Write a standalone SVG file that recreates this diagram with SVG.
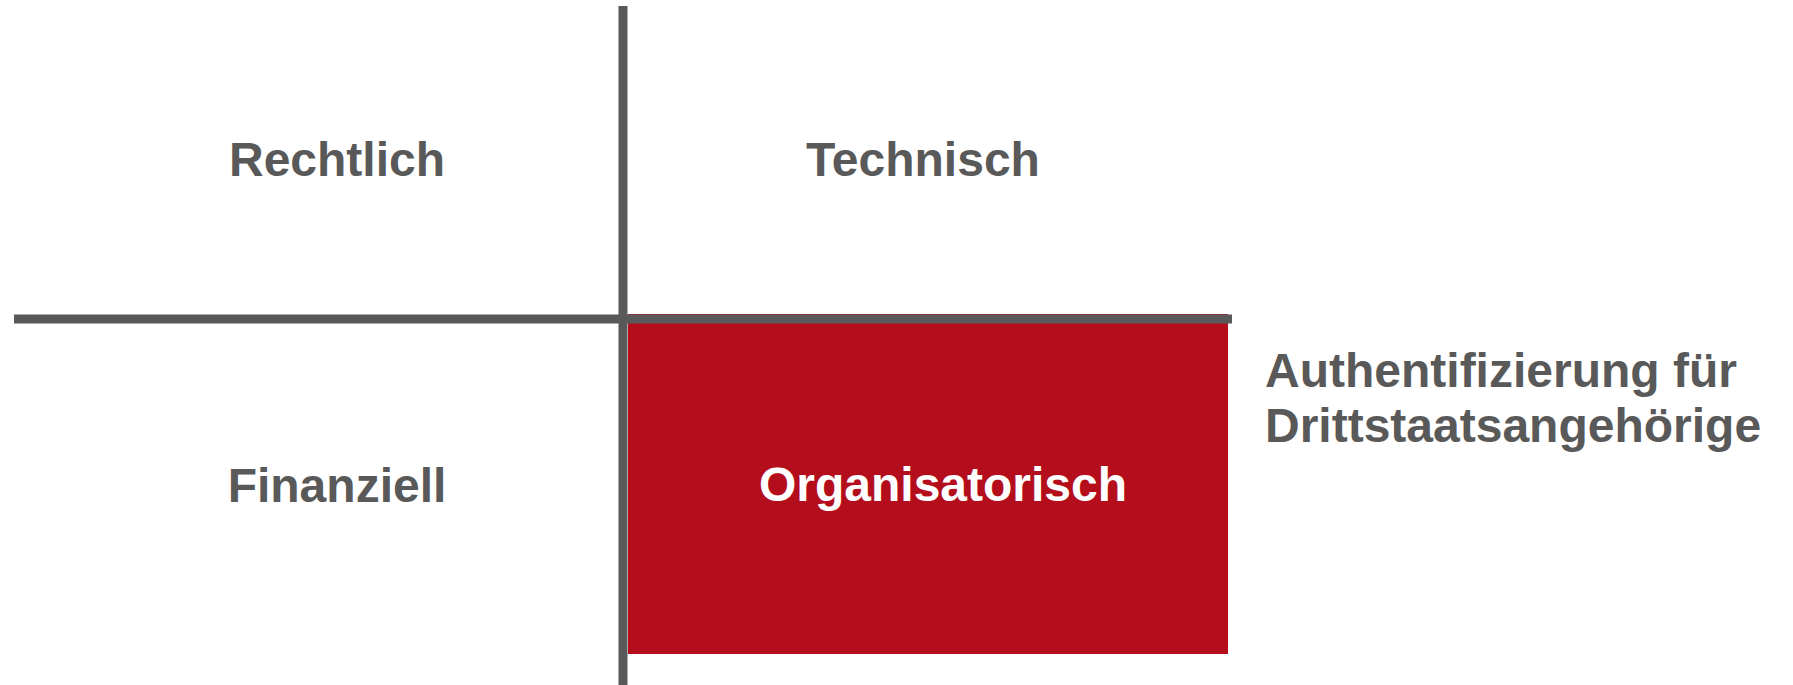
<svg xmlns="http://www.w3.org/2000/svg" width="1793" height="685" viewBox="0 0 1793 685">
<style>
.lbl{font-family:"Liberation Sans",Arial,sans-serif;font-weight:bold;font-size:48px;fill:#595959}
.w{fill:#ffffff}
.ax{stroke:#595959;stroke-width:9;fill:none}
</style>
<rect width="1793" height="685" fill="#ffffff"/>
<g id="organisatorisch-box">
<rect x="628" y="314" width="600" height="340" fill="#B40E1C"/>
</g>
<g id="axes">
<line class="ax" x1="14" y1="319" x2="1232" y2="319"/>
<line class="ax" x1="623" y1="6" x2="623" y2="685"/>
</g>
<g id="rechtlich"><text class="lbl" x="337" y="176" text-anchor="middle">Rechtlich</text></g>
<g id="technisch"><text class="lbl" x="923" y="176" text-anchor="middle">Technisch</text></g>
<g id="finanziell"><text class="lbl" x="337" y="502" text-anchor="middle">Finanziell</text></g>
<g id="organisatorisch"><text class="lbl w" x="943" y="501" text-anchor="middle">Organisatorisch</text></g>
<g id="authentifizierung">
<text class="lbl" x="1265" y="387">Authentifizierung für</text>
<text class="lbl" x="1265" y="442">Drittstaatsangehörige</text>
</g>
</svg>
